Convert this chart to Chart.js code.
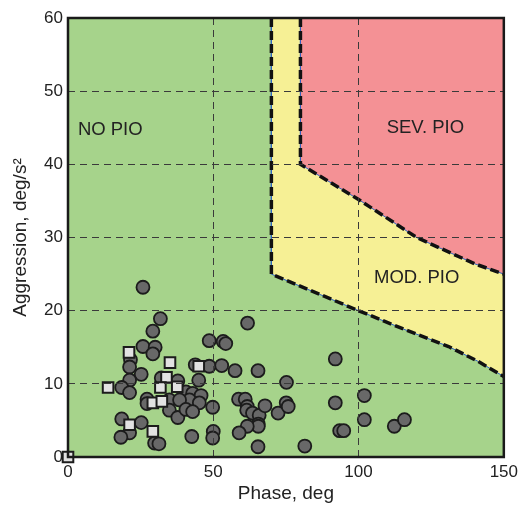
<!DOCTYPE html>
<html lang="en">
<head>
  <meta charset="UTF-8">
  <title>PIO Aggression vs Phase</title>
  <style>
    body { margin: 0; background: #fff; }
    #pioChart { display: block; }
  </style>
</head>
<body>
  <canvas id="pioChart" width="523" height="506"></canvas>

  <script src="https://cdn.jsdelivr.net/npm/chart.js"></script>
  <script>
    // region boundaries [phase, aggression]
    const noPioTop = [[0, 60], [150, 60]];
    const modBoundary = [[70, 60], [70, 25], [100, 20], [116, 17.4], [131, 15.1], [141, 13.1], [150, 11]];
    const sevBoundary = [[80, 60], [80, 40], [100, 35.2], [120, 30], [140, 26.4], [150, 25]];

    // pilot data: circles and squares
    const circlePoints = [
      [25.8, 23.2], [31.8, 18.9], [29.2, 17.2], [25.8, 15.1], [30.0, 15.0], [29.2, 14.1],
      [21.5, 13.3], [21.2, 12.3], [25.2, 11.3], [21.2, 10.5], [18.5, 9.5], [21.2, 8.8],
      [32.1, 10.8], [37.8, 10.4], [45.0, 10.5], [43.8, 12.6], [48.6, 12.4], [52.9, 12.5],
      [48.6, 15.9], [53.4, 15.8], [54.3, 15.5], [27.2, 7.9], [27.2, 7.3], [34.9, 7.8],
      [34.9, 6.4], [37.8, 5.4], [40.6, 8.9], [42.9, 8.7], [45.8, 8.4], [41.8, 7.8],
      [38.4, 7.8], [45.2, 7.4], [40.6, 6.5], [42.9, 6.2], [49.8, 6.8], [18.5, 5.2],
      [25.2, 4.7], [21.2, 3.3], [18.2, 2.7], [29.8, 1.9], [31.3, 1.8], [42.6, 2.8],
      [50.0, 3.5], [49.8, 2.6], [61.8, 18.3], [57.5, 11.8], [65.4, 11.8], [92.0, 13.4],
      [75.2, 10.2], [58.7, 7.9], [61.0, 7.9], [61.7, 6.9], [61.5, 6.4], [63.5, 6.0],
      [65.8, 5.7], [67.8, 7.0], [72.3, 6.0], [75.1, 7.4], [75.8, 6.9], [65.5, 4.5],
      [65.5, 4.2], [61.7, 4.2], [58.9, 3.3], [65.4, 1.4], [81.5, 1.5], [92.0, 7.4],
      [93.5, 3.6], [94.9, 3.6], [102.0, 8.4], [102.0, 5.1], [112.3, 4.2], [115.8, 5.1]
    ];
    const squarePoints = [
      [21.0, 14.3], [35.1, 12.9], [45.0, 12.4], [33.9, 10.9], [13.8, 9.5], [31.8, 9.5],
      [37.6, 9.6], [29.2, 7.4], [32.3, 7.6], [21.2, 4.4], [29.2, 3.5], [0, 0]
    ];

    const regionNames = ['NO PIO', 'SEV. PIO', 'MOD. PIO'];
    const regionAnchors = [[3.4, 44.7], [123, 45.0], [120, 24.5]];
    const regionAlign = ['left', 'center', 'center'];

    const toXY = arr => arr.map(([x, y]) => ({ x, y }));
    const FONT = "'Liberation Sans', Arial, Helvetica, sans-serif";

    const edgeClear = (lo, hi) => ctx =>
      (ctx.tick && (ctx.tick.value === lo || ctx.tick.value === hi)) ? 'rgba(0,0,0,0)' : '#3a3a3a';

    const regionLabels = {
      id: 'regionLabels',
      afterDatasetsDraw(chart) {
        const { ctx, scales: { x, y } } = chart;
        ctx.save();
        ctx.font = '18.5px ' + FONT;
        ctx.fillStyle = '#222';
        ctx.textBaseline = 'middle';
        regionNames.forEach((name, i) => {
          ctx.textAlign = regionAlign[i];
          ctx.fillText(name, x.getPixelForValue(regionAnchors[i][0]), y.getPixelForValue(regionAnchors[i][1]));
        });
        ctx.restore();
      }
    };

    const frame = {
      id: 'frame',
      afterDraw(chart) {
        const { ctx, chartArea: a } = chart;
        ctx.save();
        ctx.strokeStyle = '#1a1a1a';
        ctx.lineWidth = 2.5;
        ctx.strokeRect(a.left, a.top, a.right - a.left, a.bottom - a.top);
        ctx.restore();
      }
    };

    const ctx = document.getElementById('pioChart').getContext('2d');
    new Chart(ctx, {
      type: 'scatter',
      data: {
        datasets: [
          {
            type: 'line', data: toXY(noPioTop), fill: 'start',
            backgroundColor: '#a6d38b', borderWidth: 0, pointRadius: 0, order: 10
          },
          {
            type: 'line', data: toXY(modBoundary), fill: 'end',
            backgroundColor: '#f6f095', borderColor: '#2f62c0', borderWidth: 1, pointRadius: 0, order: 9
          },
          {
            type: 'line', data: toXY(sevBoundary), fill: 'end',
            backgroundColor: '#f49195', borderColor: '#2f62c0', borderWidth: 1, pointRadius: 0, order: 8
          },
          {
            type: 'line', data: toXY(modBoundary), fill: false,
            borderColor: '#111', borderWidth: 3.5, borderDash: [9, 4], pointRadius: 0, order: 6
          },
          {
            type: 'line', data: toXY(sevBoundary), fill: false,
            borderColor: '#111', borderWidth: 3.5, borderDash: [9, 4], pointRadius: 0, order: 5
          },
          {
            data: toXY(circlePoints), pointRadius: 6.5, pointHoverRadius: 6.5,
            backgroundColor: '#686868', borderColor: '#1c1c1c', borderWidth: 1.8, clip: 10, order: 2
          },
          {
            data: toXY(squarePoints), pointStyle: 'rect', pointRadius: 7.5, pointHoverRadius: 7.5,
            backgroundColor: '#e2e2e2', borderColor: '#1c1c1c', borderWidth: 2, clip: 10, order: 1
          }
        ]
      },
      options: {
        responsive: false,
        animation: false,
        layout: { padding: { top: 18, right: 16, left: 0, bottom: 0 } },
        plugins: { legend: { display: false }, tooltip: { enabled: false } },
        scales: {
          x: {
            type: 'linear', min: 0, max: 150,
            afterFit: s => { s.height = 49; },
            ticks: { stepSize: 50, padding: 5, color: '#222', font: { family: FONT, size: 17 } },
            grid: { z: 1, drawTicks: false, color: edgeClear(0, 150), lineWidth: 1 },
            border: { display: false, dash: [7, 5] },
            title: {
              display: true, text: 'Phase, deg', color: '#222',
              font: { family: FONT, size: 19, lineHeight: 1 }, padding: { top: 0, bottom: 3 }
            }
          },
          y: {
            type: 'linear', min: 0, max: 60,
            afterFit: s => { s.width = 68; },
            ticks: { stepSize: 10, padding: 5, color: '#222', font: { family: FONT, size: 17 } },
            grid: { z: 1, drawTicks: false, color: edgeClear(0, 60), lineWidth: 1 },
            border: { display: false, dash: [7, 5] },
            title: {
              display: true, text: 'Aggression, deg/s²', color: '#222',
              font: { family: FONT, size: 19, lineHeight: 1 }, padding: { top: 11, bottom: 0 }
            }
          }
        }
      },
      plugins: [regionLabels, frame]
    });
  </script>
</body>
</html>
